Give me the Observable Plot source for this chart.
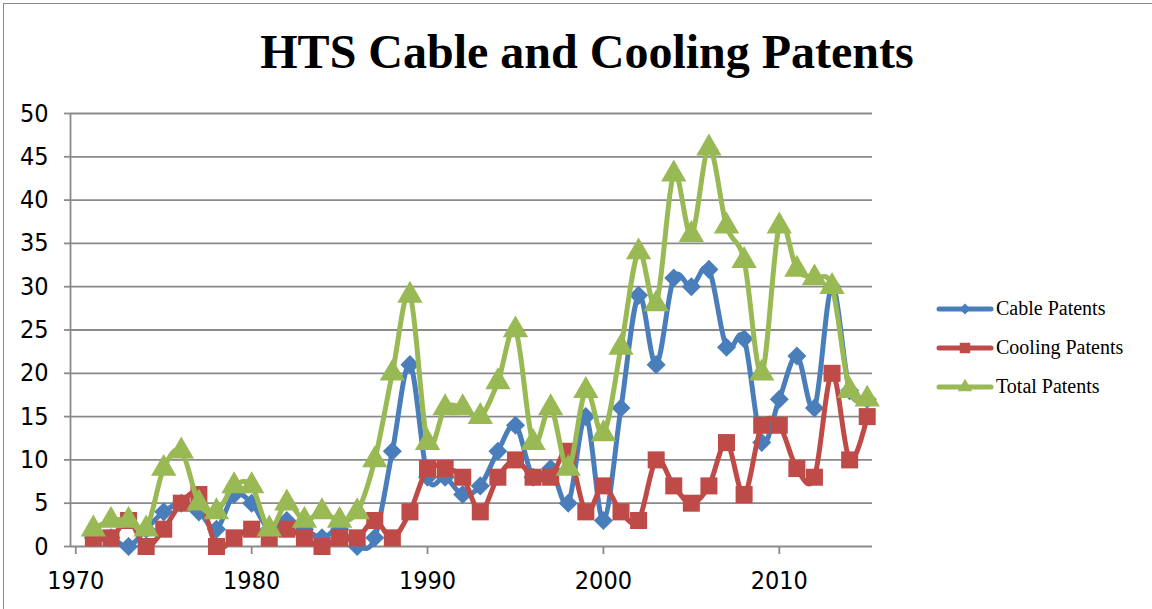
<!DOCTYPE html>
<html><head><meta charset="utf-8">
<script src="https://cdn.jsdelivr.net/npm/d3@7"></script>
<script src="https://cdn.jsdelivr.net/npm/@observablehq/plot@0.6"></script>
<style>
body{margin:0;background:#fff;}
#wrap{position:relative;width:1152px;height:609px;overflow:hidden;background:#fff;}
#frame{position:absolute;left:3px;top:3px;width:1170px;height:630px;border-left:1.5px solid #8a8a8a;border-top:1.5px solid #8a8a8a;}
#title{position:absolute;left:11px;top:22px;width:1152px;text-align:center;font:bold 48px "Liberation Serif","Times New Roman",serif;color:#000;line-height:60px;}
#chart{position:absolute;left:0;top:95px;}
#legend{position:absolute;left:936px;top:289px;font:20px "Liberation Serif","Times New Roman",serif;color:#000;}
.li{display:flex;align-items:center;height:39px;}
.li svg{margin-right:2px;}
</style></head><body>
<div id="wrap">
  <div id="frame"></div>
  <div id="title">HTS Cable and Cooling Patents</div>
  <div id="chart"></div>
  <div id="legend"></div>
</div>
<script>
// ---- data ----
const years = [1971,1972,1973,1974,1975,1976,1977,1978,1979,1980,
               1981,1982,1983,1984,1985,1986,1987,1988,1989,1990,
               1991,1992,1993,1994,1995,1996,1997,1998,1999,2000,
               2001,2002,2003,2004,2005,2006,2007,2008,2009,2010,
               2011,2012,2013,2014,2015];
const cablePatents   = [1,1,0,2,4,5,4,2,6,5, 2,3,2,1,2,0,1,11,21,8, 8,6,7,11,14,8,9,5,15,3, 16,29,21,31,30,32,23,24,12,17, 22,16,30,18,17];
const coolingPatents = [1,1,3,0,2,5,6,0,1,2, 1,2,1,0,1,1,3,1,4,9, 9,8,4,8,10,8,8,11,4,7, 4,3,10,7,5,7,12,6,14,14, 9,8,20,10,15];
const totalPatents   = [2,3,3,2,9,11,5,4,7,7, 2,5,3,4,3,4,10,20,29,12, 16,16,15,19,25,12,16,9,18,13, 23,34,28,43,36,46,37,33,20,37, 32,31,30,18,17];
const seriesNames = ["Cable Patents","Cooling Patents","Total Patents"];
const yTicks = [0,5,10,15,20,25,30,35,40,45,50];
const xTicks = [1970,1980,1990,2000,2010];

// ---- styles ----
const styles = [
  {color:"#4A7EBB", symbol:"square", rotate:45, r:7.6},
  {color:"#BE4B48", symbol:"square", rotate:0, r:9.6},
  {color:"#98B954", symbol:"triangle", rotate:0, r:9.4}
];
const allValues = [cablePatents, coolingPatents, totalPatents];
const tables = allValues.map((vals, i) => years.map((y, j) => ({year:y, value:vals[j], series:seriesNames[i]})));

const gridColor = "#8a8a8a";
const marks = [
  Plot.ruleY(yTicks, {stroke:gridColor, strokeWidth:1.8}),
  Plot.ruleX([1969.7], {y1:0, y2:50, stroke:gridColor, strokeWidth:1.8}),
  Plot.axisY({ticks:yTicks, tickSize:6, tickPadding:16, stroke:gridColor, strokeWidth:1.8, fill:"#000", label:null}),
  Plot.axisX({ticks:xTicks, tickSize:8, tickPadding:17, stroke:gridColor, strokeWidth:1.8, fill:"#000", label:null, tickFormat:d=>String(d)})
];
tables.forEach((t, i) => {
  const s = styles[i];
  marks.push(Plot.line(t, {x:"year", y:"value", stroke:s.color, strokeWidth:5, curve:"cardinal", tension:0, strokeLinejoin:"round"}));
  marks.push(Plot.dot(t, {x:"year", y:"value", symbol:()=>s.symbol, r:s.r, rotate:s.rotate, fill:s.color, stroke:"none"}));
});

const chart = Plot.plot({
  width:1152, height:514,
  marginTop:18, marginBottom:63, marginLeft:70, marginRight:280,
  x:{domain:[1969.7,2015.3]},
  y:{domain:[0,50]},
  symbol:{type:"identity"},
  style:{fontFamily:'"Liberation Sans Narrow","DejaVu Sans Condensed","Arial Narrow",sans-serif', fontSize:"25px", color:"#000", background:"transparent", overflow:"visible"},
  marks
});
document.getElementById("chart").appendChild(chart);

// ---- legend ----
const legend = document.getElementById("legend");
seriesNames.forEach((name, i) => {
  const s = styles[i];
  const row = document.createElement("div");
  row.className = "li";
  const ns = "http://www.w3.org/2000/svg";
  const svg = document.createElementNS(ns, "svg");
  svg.setAttribute("width", 58); svg.setAttribute("height", 24);
  const line = document.createElementNS(ns, "line");
  line.setAttribute("x1", 3); line.setAttribute("x2", 55);
  line.setAttribute("y1", 12); line.setAttribute("y2", 12);
  line.setAttribute("stroke", s.color); line.setAttribute("stroke-width", 5);
  line.setAttribute("stroke-linecap", "round");
  svg.appendChild(line);
  const sym = s.symbol === "triangle" ? d3.symbolTriangle : d3.symbolSquare;
  const size = i === 0 ? 60 : i === 1 ? 110 : 90;
  const p = document.createElementNS(ns, "path");
  p.setAttribute("d", d3.symbol(sym, size)());
  p.setAttribute("fill", s.color);
  p.setAttribute("transform", `translate(29,12) rotate(${s.rotate})`);
  svg.appendChild(p);
  row.appendChild(svg);
  const span = document.createElement("span");
  span.textContent = name;
  row.appendChild(span);
  legend.appendChild(row);
});
</script>
</body></html>
